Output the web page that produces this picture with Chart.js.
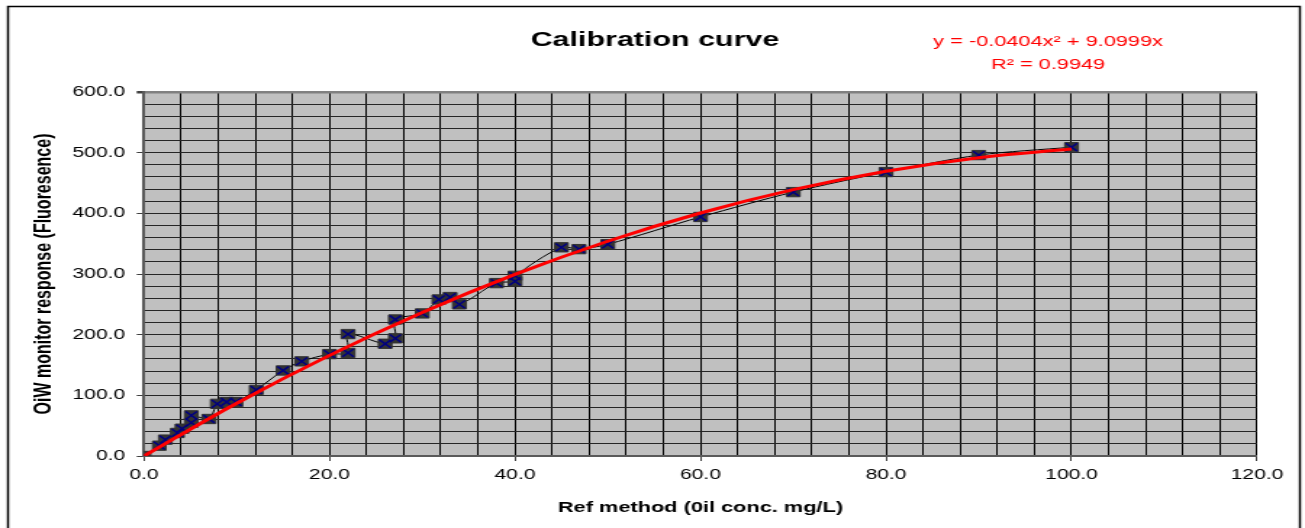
<!DOCTYPE html>
<html>
<head>
<meta charset="utf-8">
<title>Calibration curve</title>
<script src="https://cdn.jsdelivr.net/npm/chart.js@4.4.1/dist/chart.umd.min.js"></script>
<style>
  html, body { margin: 0; padding: 0; background: #fff; }
</style>
</head>
<body>
<!-- the source picture is an Excel chart stretched sideways, so the canvas is too -->
<canvas id="chart" width="900" height="528" style="display:block;width:1305px;height:528px"></canvas>
<script>
/* ── Data ── */
const refConc = [0, 1.65, 2.3, 3.6, 4.1, 5.1, 5.1, 7.0, 7.9, 8.9, 9.9, 12.1, 15.0, 17.0, 20.0, 22.0, 22.0,
  26.0, 27.1, 27.1, 30.0, 31.8, 33.0, 34.0, 38.0, 40.0, 40.0, 45.0, 46.9, 50.0, 60.0, 70.0, 80.0, 90.0, 100.0];
const monitorResp = [0, 17, 27, 38, 45, 55, 67, 61, 86, 89, 89, 109, 141, 156, 168, 170, 201,
  185, 194, 225, 235, 258, 262, 250, 285, 288, 297, 344, 341, 349, 394, 435, 468, 496, 509];

// polynomial trendline as printed on the chart: y = a*x^2 + b*x
const trendCoef = [-0.0404, 9.0999];
const trendX = [0, 10, 20, 30, 40, 50, 60, 70, 80, 90, 100];

const xTickStep = 4, xLabelEvery = 20;
const yTickStep = 20, yLabelEvery = 100;

const FONT = '"Liberation Sans", Arial, sans-serif';

const points = refConc.map((x, i) => ({ x: x, y: monitorResp[i] }));
const trend = trendX.map(x => ({ x: x, y: trendCoef[0] * x * x + trendCoef[1] * x }));

/* ── Frame, plot background and header texts ── */
const decor = {
  id: 'decor',
  beforeDraw(chart) {
    const { ctx, chartArea: a, width, height } = chart;
    ctx.save();
    ctx.fillStyle = '#ffffff';
    ctx.fillRect(0, 0, width, height);
    ctx.strokeStyle = '#000';
    ctx.lineWidth = 1.5;
    ctx.strokeRect(5.5, 6.5, 891, height + 10);
    ctx.fillStyle = '#c0c0c0';
    ctx.fillRect(a.left, a.top, a.right - a.left, a.bottom - a.top);
    ctx.restore();
  },
  afterDraw(chart) {
    const { ctx } = chart;
    ctx.save();
    ctx.textAlign = 'center';
    ctx.textBaseline = 'middle';
    ctx.fillStyle = '#000';
    ctx.font = 'bold 21px ' + FONT;
    ctx.fillText('Calibration curve', 451.7, 40);
    ctx.fillStyle = '#ff0000';
    ctx.font = '15px ' + FONT;
    ctx.fillText('y = -0.0404x\u00B2 + 9.0999x', 722.8, 42);
    ctx.fillText('R\u00B2 = 0.9949', 722.8, 65);
    ctx.restore();
  }
};

new Chart(document.getElementById('chart'), {
  type: 'scatter',
  data: {
    datasets: [
      {
        label: 'Trend',
        data: trend,
        showLine: true,
        borderColor: '#ff0000',
        borderWidth: 3,
        tension: 0.4,
        pointRadius: 0,
        order: 0
      },
      {
        label: 'Marks',
        data: points,
        showLine: false,
        pointStyle: 'crossRot',
        pointRadius: 5.5,
        pointBorderColor: '#000080',
        pointBorderWidth: 1.5,
        order: 1
      },
      {
        label: 'OiW monitor',
        data: points,
        showLine: true,
        borderColor: '#000',
        borderWidth: 1,
        tension: 0.3,
        pointStyle: 'rect',
        pointRadius: 6.6,
        pointBackgroundColor: '#333333',
        pointBorderColor: '#333333',
        pointBorderWidth: 1,
        order: 2
      }
    ]
  },
  options: {
    responsive: false,
    animation: false,
    devicePixelRatio: 1,
    layout: { padding: { left: 10, top: 92, right: 33.1, bottom: 0 } },
    plugins: {
      legend: { display: false },
      tooltip: { enabled: false },
      title: { display: false }
    },
    scales: {
      x: {
        type: 'linear',
        min: 0,
        max: 120,
        afterFit: (s) => { s.height = 72; },
        border: { color: '#5a5a5a', width: 2 },
        grid: {
          color: '#000',
          lineWidth: 1,
          tickLength: 5,
          tickColor: (c) => (c.tick && c.tick.value % xLabelEvery === 0) ? '#404040' : 'rgba(0,0,0,0)'
        },
        ticks: {
          stepSize: xTickStep,
          autoSkip: false,
          maxRotation: 0,
          padding: 5,
          color: '#000',
          font: { family: FONT, size: 14.5 },
          callback: (v) => v % xLabelEvery === 0 ? v.toFixed(1) : ''
        },
        title: {
          display: true,
          text: 'Ref method (0il conc. mg/L)',
          color: '#000',
          font: { family: FONT, size: 15, weight: 'bold' },
          padding: { top: 0, bottom: 11 }
        }
      },
      y: {
        type: 'linear',
        min: 0,
        max: 600,
        afterFit: (s) => { s.width = 89.3; },
        border: { color: '#5a5a5a', width: 2 },
        grid: {
          color: (c) => (c.tick && c.tick.value === 600) ? '#808080' : '#262626',
          lineWidth: (c) => (c.tick && c.tick.value === 600) ? 2.5 : 1,
          tickLength: 5,
          tickColor: (c) => (c.tick && c.tick.value % yLabelEvery === 0) ? '#404040' : 'rgba(0,0,0,0)'
        },
        ticks: {
          stepSize: yTickStep,
          autoSkip: false,
          padding: 8,
          color: '#000',
          font: { family: FONT, size: 14.5 },
          callback: (v) => v % yLabelEvery === 0 ? v.toFixed(1) : ''
        },
        title: {
          display: true,
          text: 'OiW monitor response (Fluoresence)',
          color: '#000',
          font: { family: FONT, size: 16, weight: 'bold' },
          padding: { top: 10.7, bottom: 0 }
        }
      }
    }
  },
  plugins: [decor]
});
</script>
</body>
</html>
